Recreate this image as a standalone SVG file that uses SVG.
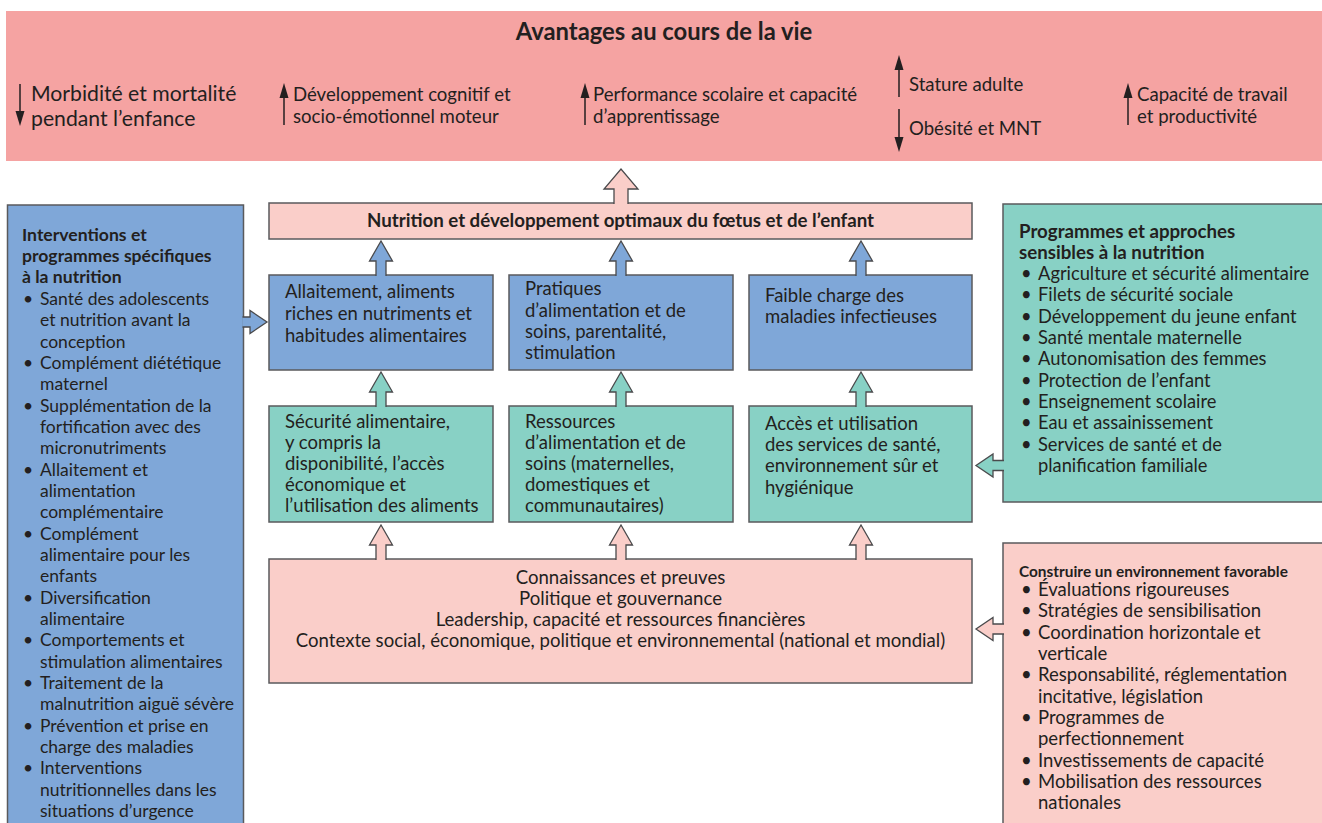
<svg xmlns="http://www.w3.org/2000/svg" width="1322" height="823" viewBox="0 0 1322 823">
<style>
.t{font-family:Lato,"Open Sans","Liberation Sans",sans-serif;fill:#231F20;}
.b{font-weight:bold;}
.box{stroke:#5A5A5C;stroke-width:1.5;}
.blue{fill:#7FA7D8;}
.teal{fill:#88D1C5;}
.pink{fill:#FACEC9;}
.ar{stroke:#4A4A4C;stroke-width:1.3;stroke-linejoin:miter;}
.sm{fill:none;stroke:#231F20;stroke-width:1.5;}
.hd{fill:#231F20;}
.f17{font-size:18.6px;}
.f16{font-size:18.5px;}
.fl{font-size:17.5px;}
.fr{font-size:18.3px;}
</style>

<g id="banner">
  <rect x="6" y="11" width="1316" height="150" fill="#F5A3A2"/>
  <text class="t b" x="664" y="40" font-size="23.8" text-anchor="middle">Avantages au cours de la vie</text>
  <line class="sm" x1="20" y1="84" x2="20" y2="113"/>
  <polygon class="hd" points="15.5,111 24.5,111 20,126"/>
  <text class="t" font-size="21.2"><tspan x="31" y="101">Morbidité et mortalité</tspan><tspan x="31" y="126">pendant l’enfance</tspan></text>
  <line class="sm" x1="284" y1="96" x2="284" y2="125"/>
  <polygon class="hd" points="279.5,98 288.5,98 284,83"/>
  <text class="t f17"><tspan x="293" y="101">Développement cognitif et</tspan><tspan x="293" y="123">socio-émotionnel moteur</tspan></text>
  <line class="sm" x1="585" y1="96" x2="585" y2="125"/>
  <polygon class="hd" points="580.5,98 589.5,98 585,83"/>
  <text class="t f17"><tspan x="593" y="101">Performance scolaire et capacité</tspan><tspan x="593" y="123">d’apprentissage</tspan></text>
  <line class="sm" x1="899" y1="68" x2="899" y2="97"/>
  <polygon class="hd" points="894.5,70 903.5,70 899,55"/>
  <text class="t f17" x="909" y="91">Stature adulte</text>
  <line class="sm" x1="899" y1="109" x2="899" y2="139"/>
  <polygon class="hd" points="894.5,137 903.5,137 899,152"/>
  <text class="t f17" x="909" y="135">Obésité et MNT</text>
  <line class="sm" x1="1128" y1="96" x2="1128" y2="125"/>
  <polygon class="hd" points="1123.5,98 1132.5,98 1128,83"/>
  <text class="t f17"><tspan x="1137" y="101">Capacité de travail</tspan><tspan x="1137" y="123">et productivité</tspan></text>
</g>

<g id="specific">
  <rect class="box blue" x="7.5" y="205" width="236" height="630"/>
  <text class="t b" font-size="17.6"><tspan x="22" y="241">Interventions et</tspan><tspan x="22" y="262">programmes spécifiques</tspan><tspan x="22" y="283">à la nutrition</tspan></text>
  <text class="t fl">
    <tspan x="23" y="305">•</tspan><tspan x="40" y="305">Santé des adolescents</tspan>
    <tspan x="40" y="326.3">et nutrition avant la</tspan>
    <tspan x="40" y="347.7">conception</tspan>
    <tspan x="23" y="369">•</tspan><tspan x="40" y="369">Complément diététique</tspan>
    <tspan x="40" y="390.3">maternel</tspan>
    <tspan x="23" y="411.7">•</tspan><tspan x="40" y="411.7">Supplémentation de la</tspan>
    <tspan x="40" y="433">fortification avec des</tspan>
    <tspan x="40" y="454.3">micronutriments</tspan>
    <tspan x="23" y="475.7">•</tspan><tspan x="40" y="475.7">Allaitement et</tspan>
    <tspan x="40" y="497">alimentation</tspan>
    <tspan x="40" y="518.3">complémentaire</tspan>
    <tspan x="23" y="539.7">•</tspan><tspan x="40" y="539.7">Complément</tspan>
    <tspan x="40" y="561">alimentaire pour les</tspan>
    <tspan x="40" y="582.3">enfants</tspan>
    <tspan x="23" y="603.7">•</tspan><tspan x="40" y="603.7">Diversification</tspan>
    <tspan x="40" y="625">alimentaire</tspan>
    <tspan x="23" y="646.3">•</tspan><tspan x="40" y="646.3">Comportements et</tspan>
    <tspan x="40" y="667.7">stimulation alimentaires</tspan>
    <tspan x="23" y="689">•</tspan><tspan x="40" y="689">Traitement de la</tspan>
    <tspan x="40" y="710.3">malnutrition aiguë sévère</tspan>
    <tspan x="23" y="731.7">•</tspan><tspan x="40" y="731.7">Prévention et prise en</tspan>
    <tspan x="40" y="753">charge des maladies</tspan>
    <tspan x="23" y="774.3">•</tspan><tspan x="40" y="774.3">Interventions</tspan>
    <tspan x="40" y="795.7">nutritionnelles dans les</tspan>
    <tspan x="40" y="817">situations d’urgence</tspan>
  </text>
</g>

<g id="outcome">
  <rect class="box pink" x="269" y="203" width="703" height="36"/>
  <text class="t b" font-size="18.7" x="620.5" y="227" text-anchor="middle">Nutrition et développement optimaux du fœtus et de l’enfant</text>
</g>

<g id="breastfeeding">
  <rect class="box blue" x="269" y="275" width="224" height="95"/>
  <text class="t f16"><tspan x="285" y="298">Allaitement, aliments</tspan><tspan x="285" y="320">riches en nutriments et</tspan><tspan x="285" y="342">habitudes alimentaires</tspan></text>
</g>
<g id="feeding">
  <rect class="box blue" x="509" y="275" width="224" height="95"/>
  <text class="t f16"><tspan x="525" y="295">Pratiques</tspan><tspan x="525" y="317">d’alimentation et de</tspan><tspan x="525" y="338">soins, parentalité,</tspan><tspan x="525" y="359">stimulation</tspan></text>
</g>
<g id="disease">
  <rect class="box blue" x="749" y="275" width="223" height="95"/>
  <text class="t f16"><tspan x="765" y="302">Faible charge des</tspan><tspan x="765" y="323">maladies infectieuses</tspan></text>
</g>

<g id="foodsecurity">
  <rect class="box teal" x="269" y="406" width="224" height="116"/>
  <text class="t f16"><tspan x="285" y="428">Sécurité alimentaire,</tspan><tspan x="285" y="449">y compris la</tspan><tspan x="285" y="470">disponibilité, l’accès</tspan><tspan x="285" y="491">économique et</tspan><tspan x="285" y="512">l’utilisation des aliments</tspan></text>
</g>
<g id="resources">
  <rect class="box teal" x="509" y="406" width="224" height="116"/>
  <text class="t f16"><tspan x="525" y="428">Ressources</tspan><tspan x="525" y="449">d’alimentation et de</tspan><tspan x="525" y="470">soins (maternelles,</tspan><tspan x="525" y="491">domestiques et</tspan><tspan x="525" y="512">communautaires)</tspan></text>
</g>
<g id="health">
  <rect class="box teal" x="749" y="406" width="223" height="116"/>
  <text class="t f16"><tspan x="765" y="430">Accès et utilisation</tspan><tspan x="765" y="451">des services de santé,</tspan><tspan x="765" y="472">environnement sûr et</tspan><tspan x="765" y="494">hygiénique</tspan></text>
</g>

<g id="context">
  <rect class="box pink" x="269" y="559" width="703" height="124"/>
  <text class="t f17" text-anchor="middle"><tspan x="620.5" y="584">Connaissances et preuves</tspan><tspan x="620.5" y="605">Politique et gouvernance</tspan><tspan x="620.5" y="626">Leadership, capacité et ressources financières</tspan><tspan x="620.5" y="647">Contexte social, économique, politique et environnemental (national et mondial)</tspan></text>
</g>

<g id="sensitive">
  <rect class="box teal" x="1003" y="204" width="330" height="298"/>
  <text class="t b" font-size="18.7"><tspan x="1019" y="238">Programmes et approches</tspan><tspan x="1019" y="259">sensibles à la nutrition</tspan></text>
  <text class="t fr">
    <tspan x="1021" y="280">•</tspan><tspan x="1038" y="280">Agriculture et sécurité alimentaire</tspan>
    <tspan x="1021" y="301.3">•</tspan><tspan x="1038" y="301.3">Filets de sécurité sociale</tspan>
    <tspan x="1021" y="322.7">•</tspan><tspan x="1038" y="322.7">Développement du jeune enfant</tspan>
    <tspan x="1021" y="344">•</tspan><tspan x="1038" y="344">Santé mentale maternelle</tspan>
    <tspan x="1021" y="365.3">•</tspan><tspan x="1038" y="365.3">Autonomisation des femmes</tspan>
    <tspan x="1021" y="386.7">•</tspan><tspan x="1038" y="386.7">Protection de l’enfant</tspan>
    <tspan x="1021" y="408">•</tspan><tspan x="1038" y="408">Enseignement scolaire</tspan>
    <tspan x="1021" y="429.3">•</tspan><tspan x="1038" y="429.3">Eau et assainissement</tspan>
    <tspan x="1021" y="450.7">•</tspan><tspan x="1038" y="450.7">Services de santé et de</tspan>
    <tspan x="1038" y="472">planification familiale</tspan>
  </text>
</g>

<g id="enabling">
  <rect class="box pink" x="1003" y="543" width="330" height="300"/>
  <text class="t b" font-size="15.4" x="1019" y="577">Construire un environnement favorable</text>
  <text class="t f16">
    <tspan x="1021" y="596">•</tspan><tspan x="1038" y="596">Évaluations rigoureuses</tspan>
    <tspan x="1021" y="617.3">•</tspan><tspan x="1038" y="617.3">Stratégies de sensibilisation</tspan>
    <tspan x="1021" y="638.7">•</tspan><tspan x="1038" y="638.7">Coordination horizontale et</tspan>
    <tspan x="1038" y="660">verticale</tspan>
    <tspan x="1021" y="681.3">•</tspan><tspan x="1038" y="681.3">Responsabilité, réglementation</tspan>
    <tspan x="1038" y="702.7">incitative, législation</tspan>
    <tspan x="1021" y="724">•</tspan><tspan x="1038" y="724">Programmes de</tspan>
    <tspan x="1038" y="745.3">perfectionnement</tspan>
    <tspan x="1021" y="766.7">•</tspan><tspan x="1038" y="766.7">Investissements de capacité</tspan>
    <tspan x="1021" y="788">•</tspan><tspan x="1038" y="788">Mobilisation des ressources</tspan>
    <tspan x="1038" y="809.3">nationales</tspan>
  </text>
</g>

<g id="connectors">
  <path class="ar pink" d="M614,204 L614,189 L604,189 L621,169 L638,189 L628,189 L628,204"/>
  <path class="ar blue" d="M376,276 L376,261 L369.5,261 L381,241 L392.5,261 L386,261 L386,276"/>
  <path class="ar blue" d="M616,276 L616,261 L609.5,261 L621,241 L632.5,261 L626,261 L626,276"/>
  <path class="ar blue" d="M856,276 L856,261 L849.5,261 L861,241 L872.5,261 L866,261 L866,276"/>
  <path class="ar teal" d="M376,407 L376,392 L369.5,392 L381,372 L392.5,392 L386,392 L386,407"/>
  <path class="ar teal" d="M616,407 L616,392 L609.5,392 L621,372 L632.5,392 L626,392 L626,407"/>
  <path class="ar teal" d="M856,407 L856,392 L849.5,392 L861,372 L872.5,392 L866,392 L866,407"/>
  <path class="ar pink" d="M376,560 L376,545 L369.5,545 L381,525 L392.5,545 L386,545 L386,560"/>
  <path class="ar pink" d="M616,560 L616,545 L609.5,545 L621,525 L632.5,545 L626,545 L626,560"/>
  <path class="ar pink" d="M856,560 L856,545 L849.5,545 L861,525 L872.5,545 L866,545 L866,560"/>
  <path class="ar blue" d="M242.5,317 L250,317 L250,310.5 L267,322 L250,333.5 L250,327 L242.5,327"/>
  <path class="ar teal" d="M1004,460.5 L993,460.5 L993,454 L976,465.5 L993,477 L993,470.5 L1004,470.5"/>
  <path class="ar pink" d="M1004,624 L993,624 L993,617.5 L976,629 L993,640.5 L993,634 L1004,634"/>
</g>
</svg>
